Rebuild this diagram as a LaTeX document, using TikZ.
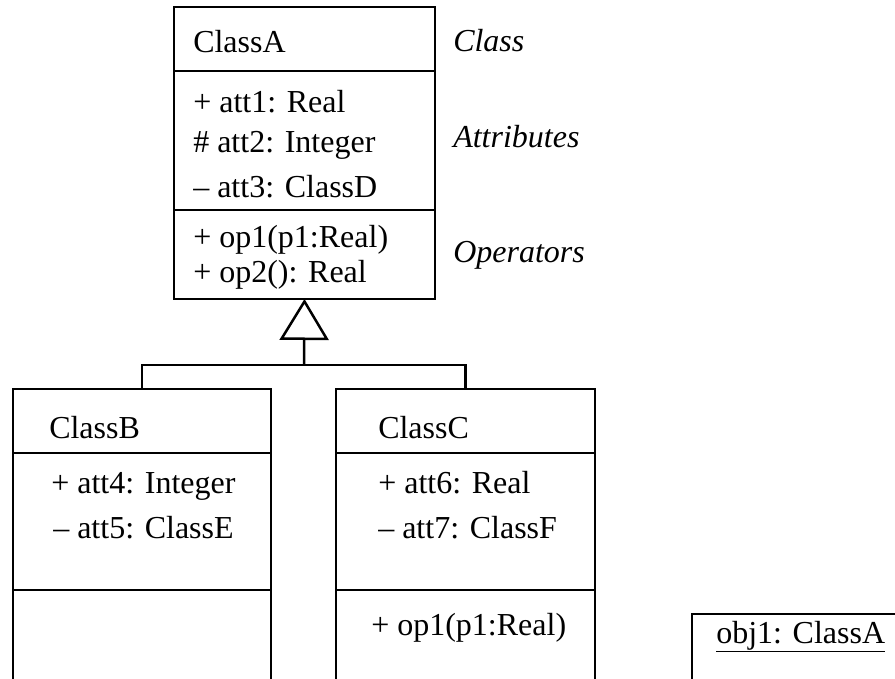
\documentclass[tikz,border=0pt]{standalone}
\usepackage{fontspec}
\setmainfont{Liberation Serif}
\usetikzlibrary{arrows.meta}
\begin{document}
\begin{tikzpicture}[x=1pt,y=-1pt,line width=2.5pt,
  classbox/.style={draw, rectangle, anchor=north west, inner sep=0pt, outer sep=0pt},
  txt/.style={anchor=base west, inner sep=0pt, font=\fontsize{32}{38}\selectfont},
  lbl/.style={anchor=base west, inner sep=0pt, font=\fontsize{32}{38}\selectfont\itshape}]
\clip (0,0) rectangle (895,679);

% ClassA with its three compartments
\node[classbox, minimum width=261pt, minimum height=292pt] (A) at (174,7) {};
\draw (174,71) -- (435,71);
\draw (174,210) -- (435,210);
\node[txt] (Aname) at (192,53) {ClassA};
\node[txt] (Aatt1) at (192,113) {+ att1: Real};
\node[txt] (Aatt2) at (192,153) {\# att2: Integer};
\node[txt] (Aatt3) at (192,198) {– att3: ClassD};
\node[txt] (Aop1) at (192,248) {+ op1(p1:Real)};
\node[txt] (Aop2) at (192,283) {+ op2(): Real};

% compartment labels
\node[lbl] (lclass) at (452,52) {Class};
\node[lbl] (lattr) at (452,148) {Attributes};
\node[lbl] (lops) at (452,263) {Operators};

% ClassB
\node[classbox, minimum width=258pt, minimum height=320pt] (B) at (13,389) {};
\draw (13,453) -- (271,453);
\draw (13,590) -- (271,590);
\node[txt] (Bname) at (48,438) {ClassB};
\node[txt] (Batt4) at (50,493) {+ att4: Integer};
\node[txt] (Batt5) at (52,538) {– att5: ClassE};

% ClassC
\node[classbox, minimum width=259pt, minimum height=320pt] (C) at (336,389) {};
\draw (336,453) -- (595,453);
\draw (336,590) -- (595,590);
\node[txt] (Cname) at (377,438) {ClassC};
\node[txt] (Catt6) at (377,493) {+ att6: Real};
\node[txt] (Catt7) at (377,538) {– att7: ClassF};
\node[txt] (Cop1) at (370,635) {+ op1(p1:Real)};

% object instance
\node[classbox, minimum width=250pt, minimum height=120pt] (obj) at (692,614) {};
\node[txt] (objname) at (715,643) {\underline{obj1: ClassA}};

% generalization
\coordinate (split) at (304,365);
\draw[-{Triangle[open,length=41pt,width=49pt]}] (split) -- (A.south);
\draw (B.north) |- (split) -| (C.north);
\end{tikzpicture}
\end{document}
